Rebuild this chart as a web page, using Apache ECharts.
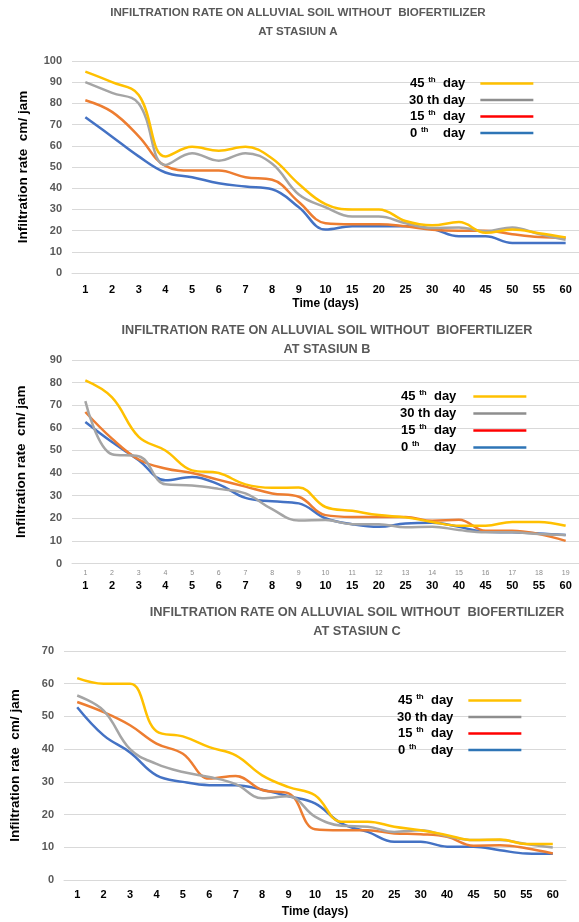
<!DOCTYPE html>
<html>
<head>
<meta charset="utf-8">
<script src="https://cdn.jsdelivr.net/npm/echarts@6/dist/echarts.min.js"></script>
<style>
html,body{margin:0;padding:0;background:#fff;}
#c{width:579px;height:922px;}
</style>
</head>
<body>
<div id="c"></div>
<script>
// ---- data ----
var categories = ['1','2','3','4','5','6','7','8','9','10','15','20','25','30','40','45','50','55','60'];
var bSmallLabels = ['1','2','3','4','5','6','7','8','9','10','11','12','13','14','15','16','17','18','19'];
var seriesNames = ['0th','15th','30th','45th'];

var a45 = [95, 90, 84, 55, 59.5, 57.7, 59.5, 54, 42, 32.5, 30, 30, 24.5, 22.5, 24, 19, 20.5, 18.8, 16.8];
var a30 = [90, 85, 80, 51, 56.5, 53, 56.5, 51.5, 37, 31, 26.6, 26.6, 23.5, 21.2, 21.5, 19.7, 21.5, 18.4, 15.7];
var a15 = [81.5, 76, 64.5, 50.5, 48.3, 48.3, 45.2, 44, 33.5, 23.5, 23, 23, 22, 20.4, 19.9, 19.9, 18.3, 17, 16.6];
var a0  = [73.5, 64.3, 55, 47.4, 45.2, 42.3, 40.8, 39.5, 31, 20.5, 22, 22, 22, 20.8, 17.3, 17.3, 14.1, 14.1, 14.1];

var b45 = [81, 73.5, 56, 50, 41.2, 40, 35, 33.5, 33.6, 25, 23.3, 21.4, 20.4, 18.4, 16.7, 16.7, 18.4, 18.4, 16.7];
var b30 = [71.8, 48.3, 47.4, 35, 34.5, 33, 31, 24, 19, 19.2, 17.4, 17.4, 16, 16.3, 14.8, 13.8, 13.8, 13, 12.6];
var b15 = [67, 55.2, 46, 42, 40, 37, 34, 31, 29.5, 21.4, 20.6, 20.6, 20.6, 18.9, 19.3, 14.5, 14.5, 13, 10];
var b0  = [62.6, 53.7, 45.7, 36.8, 38.3, 35, 29, 27.5, 26.6, 20, 17.4, 16.2, 17.7, 18, 16.2, 14, 13.8, 13.3, 12.6];

var c45 = [61.7, 60, 60, 45.5, 43.9, 40.6, 38.1, 32, 28.4, 25.9, 17.8, 17.8, 16.3, 15.2, 13.7, 12.2, 12.4, 11, 11];
var c30 = [56.4, 51.8, 40, 35.5, 33, 31.5, 29.3, 25, 25.6, 19.4, 16.6, 16.3, 14.7, 15.2, 13.4, 12.2, 12.2, 11, 9.9];
var c15 = [54.4, 51.3, 47.3, 41.7, 38.6, 31, 31.8, 27.5, 26.5, 15.5, 15.2, 15.2, 14.2, 14, 13.2, 10.5, 10.6, 9.7, 8.1];
var c0  = [52.8, 44.2, 39, 32, 30, 29, 29, 27.6, 25.6, 23.4, 17.3, 14.7, 11.7, 11.7, 10.2, 10.2, 9.1, 8.1, 8];

var titleLine1 = 'INFILTRATION RATE ON ALLUVIAL SOIL WITHOUT  BIOFERTILIZER';
var stations = ['AT STASIUN A','AT STASIUN B','AT STASIUN C'];
var yName = 'Infiltration rate  cm/ jam';
var xName = 'Time (days)';

// ---- styles ----
var lineColors = {'45th':'#FFC000','30th':'#A5A5A5','15th':'#ED7D31','0th':'#4472C4'};
var legendColors = {'45th':'#FFC000','30th':'#8E8E8E','15th':'#FF0000','0th':'#2E75B6'};
var FONT = '"Liberation Sans", Arial, sans-serif';

function legendFmt(name){
  if (name === '45th') return '{n|45 }{s|th}{d|  day}';
  if (name === '30th') return '{d|30 th day}';
  if (name === '15th') return '{n|15 }{s|th}{d|  day}';
  return '{n|0 }{s|th}{d|    day}';
}
function makeLegend(left, top, gap, pad){
  return {
    orient:'vertical', left:left, top:top, padding:0, itemGap:gap,
    align:'right', icon:'rect', itemWidth:53, itemHeight:2.5,
    selectedMode:false,
    data:['45th','30th','15th','0th'].map(function(n){
      return {name:n, itemStyle:{color:legendColors[n]}};
    }),
    formatter:legendFmt,
    textStyle:{
      fontFamily:FONT, fontWeight:'bold', fontSize:13, color:'#000', lineHeight:15,
      rich:{
        n:{fontFamily:FONT, fontWeight:'bold', fontSize:13, color:'#000', lineHeight:15},
        s:{fontFamily:FONT, fontWeight:'bold', fontSize:8, color:'#000', verticalAlign:'top', lineHeight:9},
        d:{fontFamily:FONT, fontWeight:'bold', fontSize:13, color:'#000', lineHeight:15, padding:[0,pad,0,0]}
      }
    }
  };
}
function makeTitle(center, top, size, station){
  return {
    text: titleLine1 + '\n' + station,
    left: center, top: top, padding:0, textAlign:'center',
    textStyle:{fontFamily:FONT, fontWeight:'bold', fontSize:size, color:'#595959', lineHeight:19}
  };
}
function yAx(gi, max, gap){
  return {
    type:'value', gridIndex:gi, min:0, max:max, interval:10,
    name:yName, nameLocation:'middle', nameGap:gap,
    nameTextStyle:{fontFamily:FONT, fontWeight:'bold', fontSize:13.5, color:'#000'},
    axisLine:{show:false}, axisTick:{show:false},
    axisLabel:{fontFamily:FONT, fontWeight:'bold', fontSize:11, color:'#595959', margin:10},
    splitLine:{lineStyle:{color:'#D9D9D9', width:1}}
  };
}
function xAx(gi, labels, opts){
  var o = {
    type:'category', gridIndex:gi, data:labels, boundaryGap:true,
    axisLine:{lineStyle:{color:'#D9D9D9'}}, axisTick:{show:false},
    axisLabel:{fontFamily:FONT, fontWeight:'bold', fontSize:11, color:'#000', margin:11, interval:0},
    splitLine:{show:false}
  };
  for (var k in opts) o[k] = opts[k];
  return o;
}
function mk(name, data, xi, yi){
  return {
    name:name, type:'line', data:data, xAxisIndex:xi, yAxisIndex:yi,
    smooth:0.4, symbol:'none', lineStyle:{width:2.5, color:lineColors[name]},
    itemStyle:{color:lineColors[name]}, z:2
  };
}

var chart = echarts.init(document.getElementById('c'), null, {renderer:'canvas'});
var option = {
  animation:false,
  backgroundColor:'#fff',
  title:[
    makeTitle(298, 3, 11.6, stations[0]),
    makeTitle(327, 320.5, 12.7, stations[1]),
    makeTitle(357, 602.5, 12.8, stations[2])
  ],
  legend:[
    makeLegend(409, 76, 1.5, 10),
    makeLegend(400, 389, 2, 12),
    makeLegend(397, 693, 1.5, 10)
  ],
  grid:[
    {left:72, top:61, width:507, height:212},
    {left:72, top:360, width:507, height:203.5},
    {left:64, top:651, width:502, height:229}
  ],
  xAxis:[
    xAx(0, categories, {name:xName, nameLocation:'middle', nameGap:25,
      nameTextStyle:{fontFamily:FONT, fontWeight:'bold', fontSize:12, color:'#000'}}),
    xAx(1, bSmallLabels, {axisLabel:{fontFamily:FONT, fontSize:7, color:'#8C8C8C', margin:6, interval:0}}),
    xAx(1, categories, {position:'bottom', offset:13, axisLine:{show:false},
      axisLabel:{fontFamily:FONT, fontWeight:'bold', fontSize:11, color:'#000', margin:4, interval:0}}),
    xAx(2, categories, {name:xName, nameLocation:'middle', nameGap:26,
      axisLabel:{fontFamily:FONT, fontWeight:'bold', fontSize:11, color:'#000', margin:9, interval:0},
      nameTextStyle:{fontFamily:FONT, fontWeight:'bold', fontSize:12, color:'#000'}})
  ],
  yAxis:[ yAx(0, 100, 42), yAx(1, 90, 44), yAx(2, 70, 42) ],
  series:[
    mk('0th', a0, 0, 0), mk('15th', a15, 0, 0), mk('30th', a30, 0, 0), mk('45th', a45, 0, 0),
    mk('0th', b0, 1, 1), mk('15th', b15, 1, 1), mk('30th', b30, 1, 1), mk('45th', b45, 1, 1),
    mk('0th', c0, 3, 2), mk('15th', c15, 3, 2), mk('30th', c30, 3, 2), mk('45th', c45, 3, 2)
  ]
};
chart.setOption(option);
</script>
</body>
</html>
